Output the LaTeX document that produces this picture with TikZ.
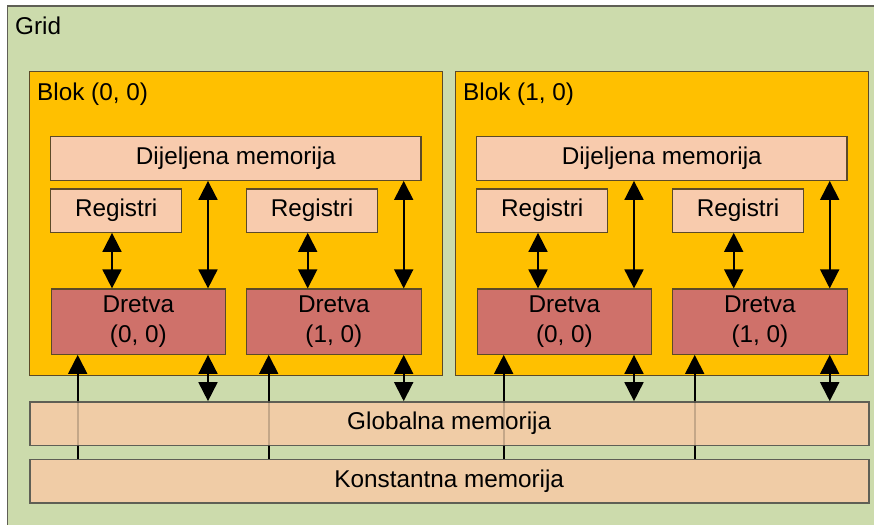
\documentclass[tikz,border=0pt]{standalone}
\usepackage{fontspec}
\setmainfont{Liberation Sans}
\usetikzlibrary{arrows.meta,calc}
\definecolor{gridgreen}{HTML}{CCDBAC}
\definecolor{blockyel}{HTML}{FFC000}
\definecolor{peach}{HTML}{F8CBAD}
\definecolor{dretvared}{HTML}{CF716A}
\definecolor{memtan}{HTML}{F0CCA6}
\definecolor{edgebrown}{HTML}{5C4A28}
\definecolor{edgegray}{HTML}{5F5F55}
\tikzset{
  box/.style={draw=edgebrown, line width=1.2pt, inner sep=0pt, font=\fontsize{24.3}{30}\selectfont, align=center},
  blockbox/.style={box, fill=blockyel},
  peachbox/.style={box, fill=peach},
  dretvabox/.style={box, fill=dretvared},
  membox/.style={box, draw=edgegray, line width=1.6pt, fill=memtan, minimum width=839pt, minimum height=43.4pt},
  lbl/.style={inner sep=0pt, anchor=base west, font=\fontsize{24.3}{30}\selectfont},
  conn/.style={line width=1.8pt, black},
  faint/.style={line width=1.8pt, draw=black, draw opacity=0.18},
  dbl/.style={conn, {Triangle[width=19pt,length=19pt]}-{Triangle[width=19pt,length=19pt]}},
  uparr/.style={conn, -{Triangle[width=19pt,length=19pt]}}
}
\begin{document}
\begin{tikzpicture}[x=1pt,y=-1pt]
\useasboundingbox (0,0) rectangle (874,524);
% grid
\path[fill=gridgreen, draw=edgegray, line width=1.6pt] (7.5,6) rectangle (884,534);
\node[lbl] (gridlbl) at (15,35) {Grid};
% memories behind lines
\node[membox] (konst) at (449.2,481) {Konstantna memorija};
\foreach \b/\ox/\bl in {0/0/{(0, 0)},1/426/{(1, 0)}}{
  \node[blockbox, minimum width=413pt, minimum height=304.2pt] (blk\b) at ({236.2+\ox},223.6) {};
  \node[lbl] (blklbl\b) at ({37+\ox},101) {Blok \bl};
  \node[peachbox, minimum width=370.3pt, minimum height=43.5pt] (sh\b) at ({235.85+\ox},158.55) {Dijeljena memorija};
  \node[peachbox, minimum width=131pt, minimum height=43.3pt] (rg\b0) at ({116.2+\ox},210.65) {Registri};
  \node[peachbox, minimum width=131pt, minimum height=43.3pt] (rg\b1) at ({312+\ox},210.65) {Registri};
  \node[dretvabox, minimum width=174.5pt, minimum height=65.3pt] (dr\b0) at ({138.35+\ox},321.65) {Dretva\\(0, 0)};
  \node[dretvabox, minimum width=174.5pt, minimum height=65.3pt] (dr\b1) at ({333.85+\ox},321.65) {Dretva\\(1, 0)};
  \coordinate (xr\b0) at ({112+\ox},0);
  \coordinate (xs\b0) at ({208+\ox},0);
  \coordinate (xr\b1) at ({307.7+\ox},0);
  \coordinate (xs\b1) at ({403.7+\ox},0);
  \coordinate (xc\b0) at ({77.7+\ox},0);
  \coordinate (xc\b1) at ({268.7+\ox},0);
}
% lines from constant memory (drawn below global memory)
\foreach \b in {0,1}{
  \foreach \t in {0,1}{
    \draw[uparr] (konst.north -| xc\b\t) -- (dr\b\t.south -| xc\b\t);
  }
}
\node[membox] (glob) at (449.2,423.65) {Globalna memorija};
\foreach \b in {0,1}{
  \foreach \t in {0,1}{
    \draw[faint] (glob.north -| xc\b\t) -- (glob.south -| xc\b\t);
    \draw[dbl] (rg\b\t.south -| xr\b\t) -- (dr\b\t.north -| xr\b\t);
    \draw[dbl] (sh\b.south -| xs\b\t) -- (dr\b\t.north -| xs\b\t);
    \draw[dbl] (dr\b\t.south -| xs\b\t) -- (glob.north -| xs\b\t);
  }
}
\end{tikzpicture}
\end{document}
